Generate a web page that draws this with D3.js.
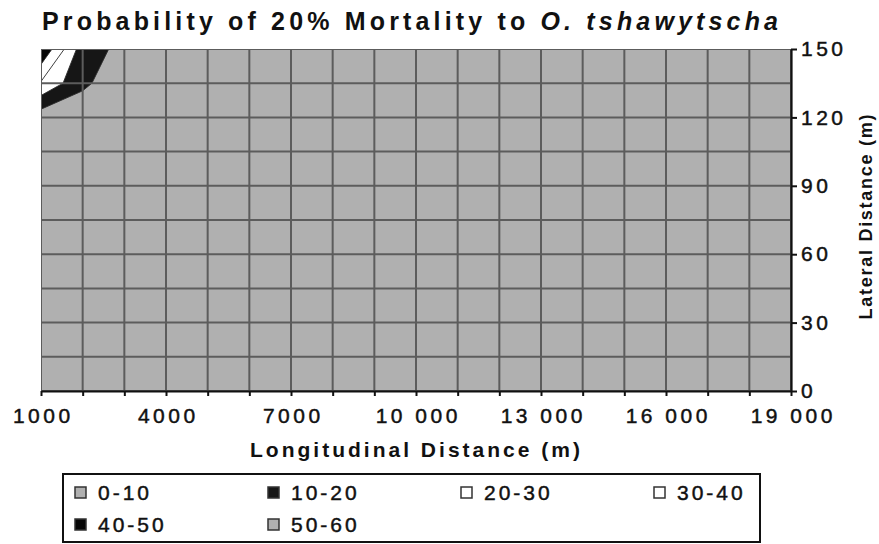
<!DOCTYPE html>
<html>
<head>
<meta charset="utf-8">
<script src="https://cdn.jsdelivr.net/npm/d3@7"></script>
<style>
body { margin: 0; background: #fff; }
text { font-family: "Liberation Sans", Arial, sans-serif; fill: #111; }
</style>
</head>
<body>
<div id="canvas"></div>
<script>
// DATA ========================================================================

var LONGITUDINAL = [1000, 2000, 3000, 4000, 5000, 6000, 7000, 8000, 9000, 10000,
    11000, 12000, 13000, 14000, 15000, 16000, 17000, 18000, 19000]

var LATERAL = [150, 135, 120, 105, 90, 75, 60, 45, 30, 15, 0]

// Probability (%) of 20% mortality, one row per lateral distance (top to bottom).
var PROBABILITY = [
    [49, 15, 7, 0, 0, 0, 0, 0, 0, 0, 0, 0, 0, 0, 0, 0, 0, 0, 0],
    [29, 12, 3, 0, 0, 0, 0, 0, 0, 0, 0, 0, 0, 0, 0, 0, 0, 0, 0],
    [4, 3, 0, 0, 0, 0, 0, 0, 0, 0, 0, 0, 0, 0, 0, 0, 0, 0, 0],
    [0, 0, 0, 0, 0, 0, 0, 0, 0, 0, 0, 0, 0, 0, 0, 0, 0, 0, 0],
    [0, 0, 0, 0, 0, 0, 0, 0, 0, 0, 0, 0, 0, 0, 0, 0, 0, 0, 0],
    [0, 0, 0, 0, 0, 0, 0, 0, 0, 0, 0, 0, 0, 0, 0, 0, 0, 0, 0],
    [0, 0, 0, 0, 0, 0, 0, 0, 0, 0, 0, 0, 0, 0, 0, 0, 0, 0, 0],
    [0, 0, 0, 0, 0, 0, 0, 0, 0, 0, 0, 0, 0, 0, 0, 0, 0, 0, 0],
    [0, 0, 0, 0, 0, 0, 0, 0, 0, 0, 0, 0, 0, 0, 0, 0, 0, 0, 0],
    [0, 0, 0, 0, 0, 0, 0, 0, 0, 0, 0, 0, 0, 0, 0, 0, 0, 0, 0],
    [0, 0, 0, 0, 0, 0, 0, 0, 0, 0, 0, 0, 0, 0, 0, 0, 0, 0, 0]
]

var X_LABELS = [1000, 4000, 7000, 10000, 13000, 16000, 19000]

var Y_LABELS = [0, 30, 60, 90, 120, 150]

var BANDS = [0, 10, 20, 30, 40, 50]

var BAND_LABELS = ["0-10", "10-20", "20-30", "30-40", "40-50", "50-60"]

var BAND_COLORS = ["#b0b0b0", "#161616", "#ffffff", "#ffffff", "#060606", "#b0b0b0"]

// GLOBAL VARIABLES ============================================================

var WIDTH = 879

var HEIGHT = 544

var PLOT = { "left": 41, "right": 791, "top": 49, "bottom": 391 }

var FONT_SIZE = 21

var LETTER_SPACING = 3.5

var GRID_COLOR = "#5c5c5c"

// SVG GENERATOR ===============================================================

function generate() {
    let svg = d3.select("#canvas").append("svg")
        .attr("width", WIDTH)
        .attr("height", HEIGHT)

    let x = d3.scaleLinear()
        .domain([LONGITUDINAL[0], LONGITUDINAL[LONGITUDINAL.length - 1]])
        .range([PLOT.left, PLOT.right])
    let y = d3.scaleLinear()
        .domain([LATERAL[LATERAL.length - 1], LATERAL[0]])
        .range([PLOT.bottom, PLOT.top])

    // Grid coordinates from d3.contours put value k at k + 0.5.
    let nx = LONGITUDINAL.length
    let ny = LATERAL.length
    let col = d3.scaleLinear().domain([0.5, nx - 0.5]).range([x(LONGITUDINAL[0]), x(LONGITUDINAL[nx - 1])])
    let row = d3.scaleLinear().domain([0.5, ny - 0.5]).range([y(LATERAL[0]), y(LATERAL[ny - 1])])
    let path = d3.geoPath(d3.geoTransform({
        point: function(px, py) { this.stream.point(col(px), row(py)) }
    }))

    svg.append("clipPath")
        .attr("id", "clip-plot")
        .append("rect")
            .attr("x", PLOT.left)
            .attr("y", PLOT.top)
            .attr("width", PLOT.right - PLOT.left)
            .attr("height", PLOT.bottom - PLOT.top)

    let plot = svg.append("g").attr("clip-path", "url(#clip-plot)")

    // Lowest band fills the whole surface.
    plot.append("rect")
        .attr("x", PLOT.left)
        .attr("y", PLOT.top)
        .attr("width", PLOT.right - PLOT.left)
        .attr("height", PLOT.bottom - PLOT.top)
        .attr("fill", BAND_COLORS[0])

    let contours = d3.contours()
        .size([nx, ny])
        .thresholds(BANDS.slice(1))(PROBABILITY.flat())

    plot.selectAll("path.band")
        .data(contours).enter()
        .append("path")
            .attr("class", "band")
            .attr("d", path)
            .attr("fill", (d, i) => BAND_COLORS[i + 1])
            .attr("stroke", "#2a2a2a")
            .attr("stroke-width", 0.9)

    // Surface mesh.
    plot.selectAll("line.vgrid")
        .data(LONGITUDINAL).enter()
        .append("line")
            .attr("x1", d => x(d))
            .attr("x2", d => x(d))
            .attr("y1", PLOT.top)
            .attr("y2", PLOT.bottom)
            .attr("stroke", GRID_COLOR)
            .attr("stroke-width", 2)

    plot.selectAll("line.hgrid")
        .data(LATERAL).enter()
        .append("line")
            .attr("x1", PLOT.left)
            .attr("x2", PLOT.right)
            .attr("y1", d => y(d))
            .attr("y2", d => y(d))
            .attr("stroke", GRID_COLOR)
            .attr("stroke-width", 2)

    // Axes.
    let xAxis = d3.axisBottom(x)
        .tickValues(LONGITUDINAL)
        .tickSize(5)
        .tickSizeOuter(0)
        .tickPadding(12)
        .tickFormat(d => X_LABELS.includes(d) ? thousands(d) : "")

    let yAxis = d3.axisRight(y)
        .tickValues(Y_LABELS)
        .tickSize(6)
        .tickSizeOuter(0)
        .tickPadding(4)

    let gx = svg.append("g")
        .attr("transform", translate(0, PLOT.bottom))
        .call(xAxis)
    let gy = svg.append("g")
        .attr("transform", translate(PLOT.right, 0))
        .call(yAxis)

    ;[gx, gy].forEach(function(g) {
        g.select(".domain").attr("stroke", "#111").attr("stroke-width", 2.2)
        g.selectAll(".tick line").attr("stroke", "#111").attr("stroke-width", 2)
        g.selectAll(".tick text")
            .attr("fill", "#111")
            .attr("stroke", "#111")
            .attr("stroke-width", 0.45)
            .attr("font-family", "Liberation Sans, Arial, sans-serif")
            .attr("font-size", FONT_SIZE)
            .attr("letter-spacing", LETTER_SPACING)
    })
    gx.selectAll(".tick text").attr("dx", LETTER_SPACING/2)

    // Titles.
    let title = svg.append("text")
        .attr("x", 42)
        .attr("y", 30)
        .attr("font-size", 25)
        .attr("font-weight", "bold")
        .attr("textLength", 736)
        .attr("lengthAdjust", "spacing")
    title.append("tspan").text("Probability of 20% Mortality to ")
    title.append("tspan").attr("font-style", "italic").text("O. tshawytscha")

    svg.append("text")
        .text("Longitudinal Distance (m)")
        .attr("x", 415)
        .attr("y", 457)
        .attr("text-anchor", "middle")
        .attr("font-size", 21)
        .attr("font-weight", "bold")
        .attr("textLength", 330)
        .attr("lengthAdjust", "spacing")

    svg.append("text")
        .text("Lateral Distance (m)")
        .attr("transform", translate(872, 217) + " rotate(-90)")
        .attr("text-anchor", "middle")
        .attr("font-size", 18)
        .attr("font-weight", "bold")
        .attr("textLength", 205)
        .attr("lengthAdjust", "spacing")

    legend(svg)
}

function legend(svg) {
    svg.append("rect")
        .attr("x", 63)
        .attr("y", 474)
        .attr("width", 697)
        .attr("height", 68)
        .attr("fill", "none")
        .attr("stroke", "#111")
        .attr("stroke-width", 2)

    let items = svg.selectAll("g.legend")
        .data(BAND_LABELS).enter()
        .append("g")
            .attr("class", "legend")
            .attr("transform", (d, i) => translate(75 + (i % 4)*193, 487 + Math.floor(i/4)*32))

    items.append("rect")
        .attr("width", 11)
        .attr("height", 11)
        .attr("fill", (d, i) => BAND_COLORS[i])
        .attr("stroke", "#333")
        .attr("stroke-width", 1.5)

    items.append("text")
        .text(d => d)
        .attr("x", 23)
        .attr("y", 13)
        .attr("font-size", FONT_SIZE)
        .attr("stroke", "#111")
        .attr("stroke-width", 0.45)
        .attr("letter-spacing", LETTER_SPACING - 0.5)
}

// -----------------------------------------------------------------------------

function translate(x, y) {
    return "translate(" + x + "," + y + ")"
}

function thousands(d) {
    return d >= 10000 ? d3.format(",")(d).replace(/,/g, " ") : String(d)
}

generate()
</script>
</body>
</html>
